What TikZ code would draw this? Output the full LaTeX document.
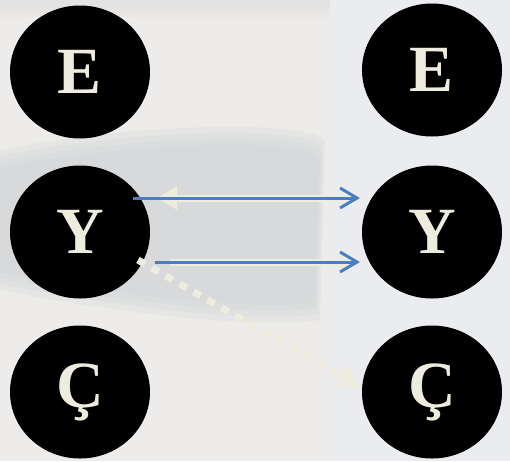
\documentclass[tikz,border=0pt]{standalone}
\usepackage{fontspec}
\setmainfont{Liberation Serif}
\usetikzlibrary{shapes.geometric,arrows.meta,calc}
\definecolor{bgc}{HTML}{EEECEB}
\definecolor{bgright}{HTML}{EBEDF1}
\definecolor{bgdark}{HTML}{D3D5D7}
\definecolor{cream}{HTML}{EEECDF}
\definecolor{bluel}{HTML}{4A7EC0}
\tikzset{
  ball/.style={ellipse, fill=black, minimum width=140pt, minimum height=133pt, inner sep=0pt,
    text=cream, font=\fontsize{66}{66}\selectfont\bfseries},
  bluearrow/.style={draw=bluel, line width=3pt, -{Straight Barb[length=17pt,width=20pt,line width=3pt]}},
  creamline/.style={draw=cream, line width=7pt},
  band/.style={fill=bgdark, opacity=0.3},
}
\begin{document}
\begin{tikzpicture}[x=1pt,y=-1pt]
\fill[bgc] (0,0) rectangle (510,461);
\foreach \d in {0,5,10}{
  \fill[bgright, opacity=0.34] (328+\d,0) rectangle (510,461);
}
\foreach \d in {0,5,10}{
  \fill[bgdark, opacity=0.12] (0,0) rectangle (330,8+\d);
}
\foreach \d in {0,6,12,18}{
  \fill[band] (0,150+\d) .. controls (120,125+\d) and (300,118+\d) .. (325-\d*0.3,140+\d) -- (320-\d*0.3,320-\d) .. controls (250,330-\d) and (100,310-\d) .. (0,290-\d) -- cycle;
}
\useasboundingbox (0,0) rectangle (510,461);
\node[ball] (El) at (80,72) {E};
\node[ball] (Er) at (432,70) {E};
\node[ball] (Yl) at (80,232) {Y};
\node[ball] (Yr) at (432,232) {Y};
\node[ball] (Cl) at (80,392) {Ç};
\node[ball] (Cr) at (432,392) {Ç};
% coordinates derived from nodes
\coordinate (a1s) at ($(Yl.center)+(53,-34)$);
\coordinate (a1e) at ($(Yr.center)+(-72,-34)$);
\coordinate (c1e) at ($(Yl.center)+(77,-34)$);
\coordinate (a2s) at ($(Yl.center)+(75,30)$);
\coordinate (a2e) at ($(Yr.center)+(-72,30)$);
\coordinate (c2s) at ($(Yl.center)+(90,30)$);
\coordinate (ds) at ($(Yl.center)+(58,28)$);
\coordinate (de) at ($(Cr.center)+(-70,-4)$);
% cream arrows behind
\draw[creamline, -{Triangle[length=20pt,width=22pt]}] (a1e) -- (c1e);
\draw[creamline, -{Triangle[length=20pt,width=22pt]}] (c2s) -- (a2e);
\draw[draw=cream, line width=7pt, dash pattern=on 8pt off 8pt, -{Triangle[length=24pt,width=24pt]}] (ds) -- (de);
% blue arrows
\draw[bluearrow] (a1s) -- (a1e);
\draw[bluearrow] (a2s) -- (a2e);
\end{tikzpicture}
\end{document}
